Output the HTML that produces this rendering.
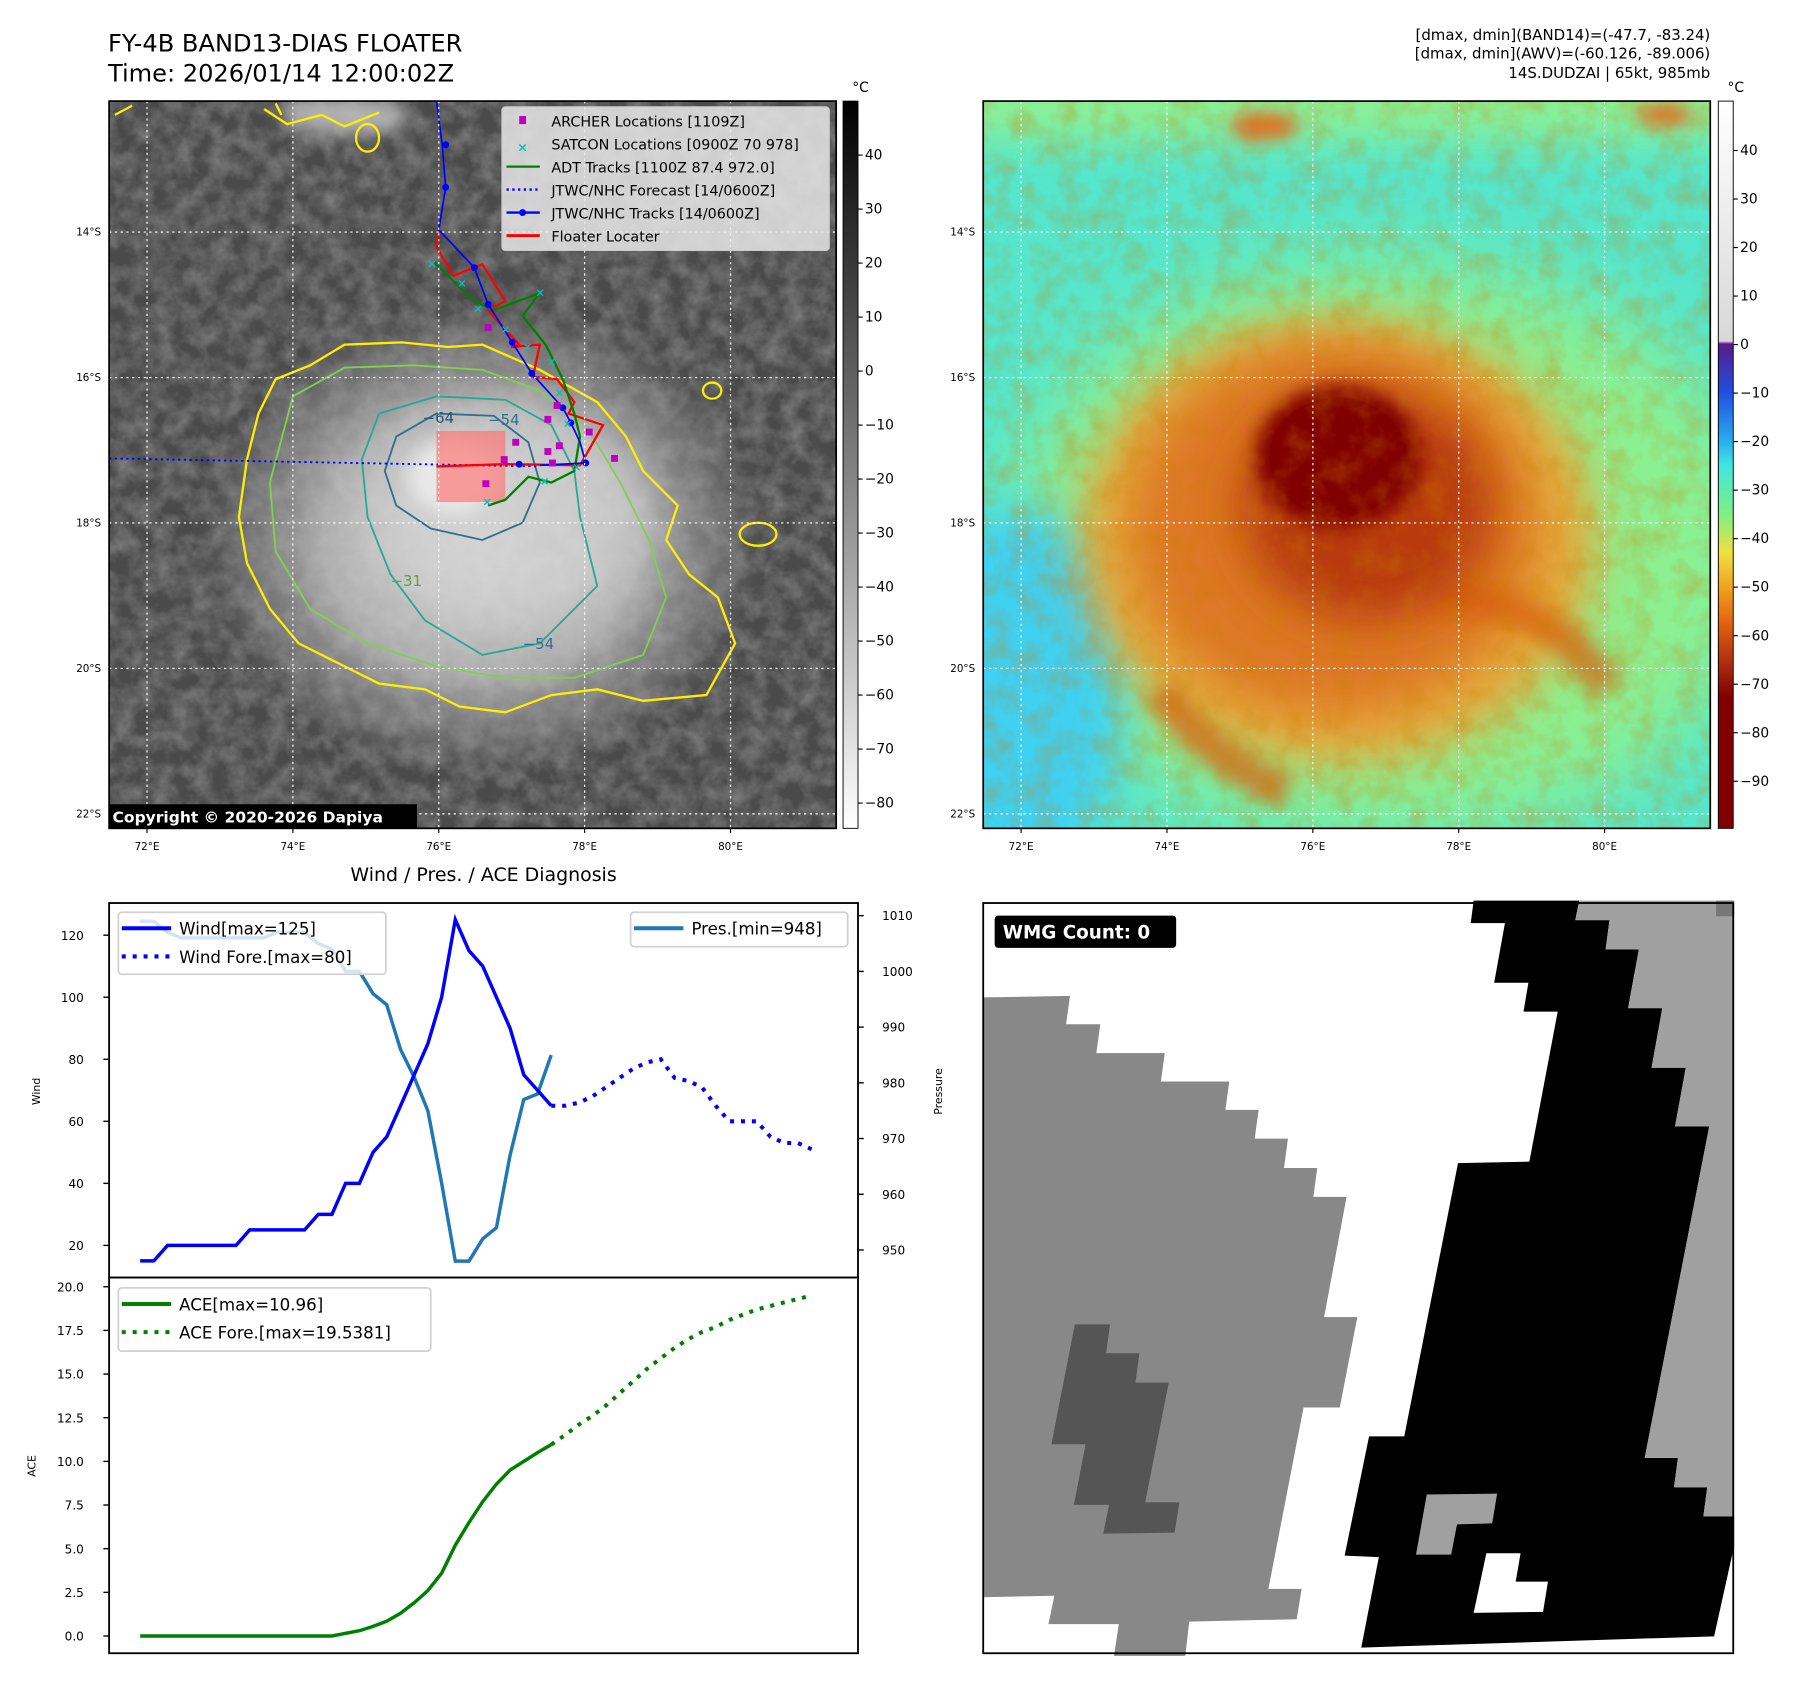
<!DOCTYPE html>
<html><head><meta charset="utf-8">
<style>
html,body{margin:0;padding:0;background:#fff;}
svg{display:block;font-family:"DejaVu Sans","Liberation Sans",sans-serif;}
</style></head>
<body>
<svg id="fig" width="1801" height="1690" viewBox="0 0 1568 1471" preserveAspectRatio="none" xmlns="http://www.w3.org/2000/svg">
<defs>
  <filter id="cloudNoise" x="0" y="0" width="100%" height="100%">
    <feTurbulence type="fractalNoise" baseFrequency="0.06" numOctaves="4" seed="7"/>
    <feColorMatrix type="matrix" values="0 0 0 0 1  0 0 0 0 1  0 0 0 0 1  1.0 0 0 0 -0.3"/>
  </filter>
  <filter id="cloudNoise2" x="0" y="0" width="100%" height="100%">
    <feTurbulence type="fractalNoise" baseFrequency="0.05" numOctaves="4" seed="3"/>
    <feColorMatrix type="matrix" values="0 0 0 0 0.6  0 0 0 0 0.2  0 0 0 0 0.0  1.4 0 0 0 -0.55"/>
  </filter>
  <filter id="blur8" x="-50%" y="-50%" width="200%" height="200%"><feGaussianBlur stdDeviation="8"/></filter>
  <filter id="blur20" x="-50%" y="-50%" width="200%" height="200%"><feGaussianBlur stdDeviation="20"/></filter>
  <filter id="blur35" x="-50%" y="-50%" width="200%" height="200%"><feGaussianBlur stdDeviation="35"/></filter>
  <radialGradient id="stormGray" cx="0.5" cy="0.5" r="0.5">
    <stop offset="0" stop-color="#d8d8d8"/>
    <stop offset="0.55" stop-color="#b8b8b8" stop-opacity="0.9"/>
    <stop offset="0.85" stop-color="#8a8a8a" stop-opacity="0.5"/>
    <stop offset="1" stop-color="#606060" stop-opacity="0"/>
  </radialGradient>
  <linearGradient id="cbarGray" x1="0" y1="0" x2="0" y2="1">
    <stop offset="0" stop-color="#000"/>
    <stop offset="1" stop-color="#fff"/>
  </linearGradient>
  <linearGradient id="cbarColor" x1="0" y1="0" x2="0" y2="1">
    <stop offset="0" stop-color="#ffffff"/>
    <stop offset="0.33" stop-color="#d8d8d8"/>
    <stop offset="0.334" stop-color="#5a1a8a"/>
    <stop offset="0.40" stop-color="#1f4fe0"/>
    <stop offset="0.47" stop-color="#2ab0f0"/>
    <stop offset="0.50" stop-color="#40e6e0"/>
    <stop offset="0.57" stop-color="#80f080"/>
    <stop offset="0.62" stop-color="#f0e040"/>
    <stop offset="0.67" stop-color="#f0a020"/>
    <stop offset="0.72" stop-color="#e06010"/>
    <stop offset="0.77" stop-color="#b03010"/>
    <stop offset="0.82" stop-color="#800000"/>
    <stop offset="1" stop-color="#800000"/>
  </linearGradient>
  <clipPath id="clipL"><rect x="95" y="88" width="633" height="633"/></clipPath>
  <clipPath id="clipR"><rect x="856" y="88" width="633" height="633"/></clipPath>
</defs>

<text x="94" y="45" font-size="21">FY-4B BAND13-DIAS FLOATER</text>
<text x="94" y="71" font-size="21">Time: 2026/01/14 12:00:02Z</text>
<text x="1489" y="35" font-size="13" text-anchor="end">[dmax, dmin](BAND14)=(-47.7, -83.24)</text>
<text x="1489" y="51" font-size="13" text-anchor="end">[dmax, dmin](AWV)=(-60.126, -89.006)</text>
<text x="1489" y="68" font-size="13" text-anchor="end">14S.DUDZAI | 65kt, 985mb</text>

<!-- LEFT MAP -->
<g clip-path="url(#clipL)">
  <rect x="95" y="88" width="633" height="633" fill="#4a4a4a"/>
  <rect x="95" y="88" width="633" height="633" filter="url(#cloudNoise)" opacity="0.35"/>
  <ellipse cx="300" cy="100" rx="55" ry="18" fill="#b0b0b0" filter="url(#blur8)"/>
  <ellipse cx="420" cy="470" rx="250" ry="210" fill="url(#stormGray)"/>
  <ellipse cx="440" cy="450" rx="120" ry="90" fill="#d0d0d0" filter="url(#blur20)" opacity="0.7"/>
  <ellipse cx="395" cy="415" rx="40" ry="32" fill="#e8e8e8" filter="url(#blur8)"/>
  <rect x="95" y="88" width="633" height="633" filter="url(#cloudNoise)" opacity="0.15"/>
  <path d="M240,330 L270,318 300,300 350,298 390,302 420,300 470,322 520,350 545,380 560,410 590,440 580,470 600,500 625,520 640,560 615,605 560,610 520,600 480,605 440,620 400,615 370,600 330,595 300,580 260,560 235,530 215,490 208,450 215,400 225,360 Z" fill="none" stroke="#ffee00" stroke-width="2"/>
  <path d="M255,345 L300,320 360,318 420,322 470,340 510,370 540,420 565,470 580,520 560,570 500,590 440,590 380,580 320,560 270,530 240,480 235,420 Z" fill="none" stroke="#80d050" stroke-width="1.6"/>
  <path d="M330,360 L380,345 440,348 480,370 500,410 505,450 520,510 470,560 420,570 370,540 340,500 320,450 315,400 Z" fill="none" stroke="#2aa890" stroke-width="1.6"/>
  <path d="M345,380 L380,360 430,362 460,385 470,420 455,455 420,470 375,460 345,440 335,410 Z" fill="none" stroke="#2d7090" stroke-width="1.6"/>
  <path d="M100,100 L115,92 M230,95 L250,108 280,100 300,110 330,98 M240,90 L245,100" fill="none" stroke="#ffee00" stroke-width="2"/>
  <ellipse cx="660" cy="465" rx="16" ry="10" fill="none" stroke="#ffee00" stroke-width="2"/>
  <ellipse cx="620" cy="340" rx="8" ry="7" fill="none" stroke="#ffee00" stroke-width="2"/>
  <ellipse cx="320" cy="120" rx="10" ry="12" fill="none" stroke="#ffee00" stroke-width="2"/>
  <text x="368" y="368" font-size="13" fill="#2d5070">−64</text>
  <text x="425" y="370" font-size="13" fill="#2d7090">−54</text>
  <text x="455" y="565" font-size="13" fill="#2d7090">−54</text>
  <text x="340" y="510" font-size="13" fill="#60a040">−31</text>
  <rect x="380" y="375" width="60" height="62" fill="#ff7070" opacity="0.65"/>
  <line x1="95" y1="399" x2="470" y2="406" stroke="#0000ff" stroke-width="1.6" stroke-dasharray="2,3"/>
  <polyline points="382,200 380,215 395,240 420,230 440,262 425,270 452,300 445,302 470,300 464,328 485,330 500,350 495,360 525,370 505,405 440,404 380,406" fill="none" stroke="#ff0000" stroke-width="2"/>
  <polyline points="378,228 410,260 430,270 470,255 455,275 475,300 490,330 500,360 505,380 500,410 480,420 460,415 440,435 425,440" fill="none" stroke="#008000" stroke-width="2"/>
  <polyline points="380,88 385,126 388,163 382,200 413,233 425,265 446,298 463,325 490,355 497,368 505,385 510,403 490,404 470,405" fill="none" stroke="#0000ff" stroke-width="1.5"/>
  <g fill="#0000ff">
    <circle cx="388" cy="126" r="3"/><circle cx="388" cy="163" r="3"/><circle cx="413" cy="233" r="3"/><circle cx="425" cy="265" r="3"/><circle cx="446" cy="298" r="3"/><circle cx="463" cy="325" r="3"/><circle cx="490" cy="355" r="3"/><circle cx="497" cy="368" r="3"/><circle cx="510" cy="403" r="3"/><circle cx="452" cy="404" r="3"/>
  </g>
  <g fill="#00c0c0" font-size="10" font-weight="bold">
    <text x="372" y="233">×</text><text x="398" y="250">×</text><text x="412" y="272">×</text><text x="436" y="290">×</text><text x="466" y="258">×</text><text x="455" y="305">×</text><text x="476" y="318">×</text><text x="483" y="345">×</text><text x="490" y="372">×</text><text x="470" y="422">×</text><text x="498" y="410">×</text><text x="420" y="440">×</text>
  </g>
  <g fill="#c000c0">
    <rect x="422" y="282" width="6" height="6"/><rect x="474" y="362" width="6" height="6"/><rect x="482" y="350" width="6" height="6"/><rect x="446" y="382" width="6" height="6"/><rect x="436" y="397" width="6" height="6"/><rect x="474" y="390" width="6" height="6"/><rect x="484" y="385" width="6" height="6"/><rect x="510" y="373" width="6" height="6"/><rect x="532" y="396" width="6" height="6"/><rect x="420" y="418" width="6" height="6"/><rect x="478" y="400" width="6" height="6"/>
  </g>
  <g id="gridL" stroke="#fff" stroke-width="1" stroke-dasharray="2,3"></g>
  <g>
    <rect x="437" y="93" width="285" height="125" rx="3" fill="#e8e8e8" fill-opacity="0.85" stroke="#ccc"/>
    <rect x="452" y="101" width="6" height="7" fill="#c000c0"/>
    <text x="455" y="132" font-size="11" font-weight="bold" fill="#00c0c0" text-anchor="middle">×</text>
    <line x1="441" y1="145" x2="470" y2="145" stroke="#008000" stroke-width="2"/>
    <line x1="441" y1="165" x2="470" y2="165" stroke="#0000ff" stroke-width="2" stroke-dasharray="2,3"/>
    <line x1="441" y1="185" x2="470" y2="185" stroke="#0000ff" stroke-width="2"/><circle cx="455" cy="185" r="3" fill="#0000ff"/>
    <line x1="441" y1="205" x2="470" y2="205" stroke="#ff0000" stroke-width="2.5"/>
    <g font-size="12.5" fill="#000">
      <text x="480" y="110">ARCHER Locations [1109Z]</text>
      <text x="480" y="130">SATCON Locations [0900Z 70 978]</text>
      <text x="480" y="150">ADT Tracks [1100Z 87.4 972.0]</text>
      <text x="480" y="170">JTWC/NHC Forecast [14/0600Z]</text>
      <text x="480" y="190">JTWC/NHC Tracks [14/0600Z]</text>
      <text x="480" y="210">Floater Locater</text>
    </g>
  </g>
  <rect x="95" y="700" width="268" height="21" fill="#000"/>
  <text x="98" y="716" font-size="13.5" font-weight="bold" fill="#fff">Copyright © 2020-2026 Dapiya</text>
</g>
<rect x="95" y="88" width="633" height="633" fill="none" stroke="#000" stroke-width="1.5"/>

<rect x="734" y="88" width="13" height="633" fill="url(#cbarGray)" stroke="#000" stroke-width="0.8"/>
<text x="742" y="80" font-size="12">°C</text>
<g id="cbarLTicks" font-size="12"></g>

<!-- RIGHT MAP -->
<g clip-path="url(#clipR)">
  <rect x="856" y="88" width="633" height="633" fill="#55e6cc"/>
  <rect x="800" y="60" width="750" height="60" fill="#90f090" filter="url(#blur20)"/>
  <ellipse cx="1210" cy="480" rx="330" ry="250" fill="#8cf090" filter="url(#blur35)"/>
  <ellipse cx="890" cy="600" rx="90" ry="160" fill="#40d0f0" filter="url(#blur20)"/>
  <ellipse cx="1165" cy="470" rx="225" ry="195" fill="#f0a030" filter="url(#blur20)" opacity="0.9"/>
  <ellipse cx="1160" cy="460" rx="175" ry="160" fill="#dc7020" filter="url(#blur20)" opacity="0.85"/>
  <path d="M1250,520 Q1350,520 1400,600 M1010,600 Q1050,660 1120,690" stroke="#d86010" stroke-width="30" fill="none" filter="url(#blur8)" opacity="0.7"/>
  <ellipse cx="1190" cy="440" rx="110" ry="100" fill="#b83a10" filter="url(#blur20)"/>
  <ellipse cx="1165" cy="398" rx="72" ry="62" fill="#800000" filter="url(#blur8)"/>
  <ellipse cx="1165" cy="398" rx="60" ry="52" fill="#800000"/>
  <rect x="856" y="88" width="633" height="633" filter="url(#cloudNoise2)" opacity="0.45"/>
  <ellipse cx="1100" cy="110" rx="30" ry="12" fill="#e07020" filter="url(#blur8)"/>
  <ellipse cx="1450" cy="100" rx="25" ry="10" fill="#e07020" filter="url(#blur8)"/>
  <g id="gridR" stroke="#fff" stroke-width="1" stroke-dasharray="2,3"></g>
</g>
<rect x="856" y="88" width="633" height="633" fill="none" stroke="#000" stroke-width="1.5"/>
<rect x="1496" y="88" width="13" height="633" fill="url(#cbarColor)" stroke="#000" stroke-width="0.8"/>
<text x="1504" y="80" font-size="12">°C</text>
<g id="cbarRTicks" font-size="12"></g>
<g id="mapTicks" font-size="9"></g>

<text x="421" y="767" font-size="16.5" text-anchor="middle">Wind / Pres. / ACE Diagnosis</text>
<g id="windPanel"></g>
<rect x="95" y="786" width="652" height="326" fill="none" stroke="#000" stroke-width="1.6"/>
<rect x="95" y="1112" width="652" height="327" fill="none" stroke="#000" stroke-width="1.6"/>
<text transform="translate(35,950) rotate(-90)" font-size="9.5" text-anchor="middle">Wind</text>
<text transform="translate(820,950) rotate(-90)" font-size="9.5" text-anchor="middle">Pressure</text>
<text transform="translate(31,1276) rotate(-90)" font-size="9.5" text-anchor="middle">ACE</text>

<g>
  <rect x="856" y="786" width="653" height="653" fill="#fff"/>
  <g transform="translate(855.8,783.9) scale(0.4255)">
    <polygon fill="#888888" points="0,198 178,195 170,253 240,253 232,312 372,312 364,370 504,370 496,428 564,428 556,487 624,487 616,547 684,547 676,606 744,606 698,852 766,852 730,1037 656,1037 584,1408 652,1408 642,1470 422,1475 414,1545 268,1545 278,1480 134,1480 146,1422 0,1425"/>
    <polygon fill="#555555" points="188,867 260,867 252,926 320,926 312,986 380,986 332,1231 402,1231 392,1293 246,1295 258,1236 186,1236 210,1112 140,1112"/>
    <polygon fill="#000" points="1004,0 1220,0 1212,40 1282,40 1274,100 1342,100 1320,220 1390,220 1368,342 1438,342 1416,462 1486,462 1354,1140 1422,1140 1414,1200 1482,1200 1474,1260 1537,1260 1537,1320 1496,1505 774,1528 810,1343 740,1340 790,1096 862,1096 972,537 1118,534 1176,227 1106,227 1116,168 1046,168 1068,46 998,46"/>
    <polygon fill="#a0a0a0" points="1220,0 1537,0 1537,1260 1474,1260 1482,1200 1414,1200 1422,1140 1354,1140 1486,462 1416,462 1438,342 1368,342 1390,220 1320,220 1342,100 1274,100 1282,40 1212,40"/>
    <rect x="1500" y="0" width="37" height="32" fill="#777"/>
    <polygon fill="#a0a0a0" points="908,1215 1052,1213 1042,1274 970,1276 958,1338 886,1338"/>
    <polygon fill="#fff" points="1030,1335 1100,1335 1090,1393 1156,1393 1146,1455 1004,1457"/>
  </g>
  <rect x="866" y="797" width="158" height="28" rx="3" fill="#000"/>
  <text x="873" y="817" font-size="16" font-weight="bold" fill="#fff">WMG Count: 0</text>
  <rect x="856" y="786" width="653" height="653" fill="none" stroke="#000" stroke-width="1.6"/>
</g>

<script>
var windObs = [15,15,20,20,20,20,20,20,25,25,25,25,25,30,30,40,40,50,55,65,75,85,100,125,115,110,100,90,75,70,65];
var windFore = [65,65,66,68,71,74,77,79,80,74,73,71,65,60,60,60,55,53,53,51];
var presObs = [1009,1009,1007,1006,1006,1006,1006,1006,1006,1006,1007,1007,1007,1005,1004,1000,1000,996,994,986,981,975,962,948,948,952,954,967,977,978,985];
var aceObs = [0,0,0,0,0,0,0,0,0,0,0,0,0,0,0,0.15,0.3,0.55,0.85,1.3,1.9,2.6,3.6,5.2,6.5,7.7,8.7,9.5,10.0,10.5,10.96];
var aceFore = [10.96,11.5,12.1,12.6,13.2,13.9,14.6,15.3,15.9,16.5,17.0,17.4,17.7,18.1,18.4,18.7,18.9,19.1,19.3,19.5];
var windTicks = [20,40,60,80,100,120];
var presTicks = [950,960,970,980,990,1000,1010];
var aceTicks = [0,2.5,5,7.5,10,12.5,15,17.5,20];
var lonTicks = ["72°E","74°E","76°E","78°E","80°E"];
var latTicks = ["14°S","16°S","18°S","20°S","22°S"];
var irTicks = [40,30,20,10,0,-10,-20,-30,-40,-50,-60,-70,-80];
var awvTicks = [40,30,20,10,0,-10,-20,-30,-40,-50,-60,-70,-80,-90];

var NS = "http://www.w3.org/2000/svg";
function mk(tag, attrs, parent){ var e=document.createElementNS(NS,tag); for(var k in attrs) e.setAttribute(k,attrs[k]); parent.appendChild(e); return e; }
function xi(i){ return 122 + i*11.93; }
function yWind(v){ return 1084 - (v-20)*2.7; }
function yPres(p){ return 1088 - (p-950)*4.85; }
function yAce(a){ return 1424 - a*15.2; }
var wp = document.getElementById('windPanel');

windTicks.forEach(function(t){
  var y=yWind(t);
  mk('line',{x1:90,y1:y,x2:95,y2:y,stroke:'#000','stroke-width':1.2},wp);
  var tx=mk('text',{x:73,y:y+4,'font-size':10.5,'text-anchor':'end'},wp); tx.textContent=t;
  
  
});
presTicks.forEach(function(t){
  var y=yPres(t);
  mk('line',{x1:747,y1:y,x2:752,y2:y,stroke:'#000','stroke-width':1.2},wp);
  var tx=mk('text',{x:768,y:y+4,'font-size':10.5},wp); tx.textContent=t;
  
  
});
aceTicks.forEach(function(t){
  var y=yAce(t);
  mk('line',{x1:90,y1:y,x2:95,y2:y,stroke:'#000','stroke-width':1.2},wp);
  var tx=mk('text',{x:73,y:y+4,'font-size':10.5,'text-anchor':'end'},wp); tx.textContent=t.toFixed(1);
  
  
});

function pts(arr, off, fy){ return arr.map(function(v,i){ return xi(i+off).toFixed(1)+','+fy(v).toFixed(1); }).join(' '); }
var l;
l=mk('polyline',{points:pts(presObs,0,yPres),fill:'none',stroke:'#1f77b4','stroke-width':3},wp);


l=mk('polyline',{points:pts(windObs,0,yWind),fill:'none',stroke:'#0000ff','stroke-width':3},wp);


l=mk('polyline',{points:pts(windFore,windObs.length-1,yWind),fill:'none',stroke:'#0000ff','stroke-width':3.5,'stroke-dasharray':'3.5,6'},wp);


l=mk('polyline',{points:pts(aceObs,0,yAce),fill:'none',stroke:'#008000','stroke-width':3},wp);


l=mk('polyline',{points:pts(aceFore,aceObs.length-1,yAce),fill:'none',stroke:'#008000','stroke-width':3.5,'stroke-dasharray':'3.5,6'},wp);



function legend(x,y,w,h,items,name){
  var g=mk('g',{},wp);
  
  
  mk('rect',{x:x,y:y,width:w,height:h,rx:3,fill:'#fff','fill-opacity':0.8,stroke:'#d0d0d0','stroke-width':1.5},g);
  items.forEach(function(it,k){
    var yy=y+14+k*24.5;
    var a={x1:x+3,y1:yy,x2:x+46,y2:yy,stroke:it.c,'stroke-width':3.5};
    if(it.d) a['stroke-dasharray']='3.5,6';
    mk('line',a,g);
    var t=mk('text',{x:x+53,y:yy+5.5,'font-size':14.5},g); t.textContent=it.t;
  });
}
legend(103,794,233,54,[{c:'#0000ff',t:'Wind[max=125]'},{c:'#0000ff',t:'Wind Fore.[max=80]',d:1}],'wind-legend');
legend(549,794,189,30,[{c:'#1f77b4',t:'Pres.[min=948]'}],'pressure-legend');
legend(103,1121,272,55,[{c:'#008000',t:'ACE[max=10.96]'},{c:'#008000',t:'ACE Fore.[max=19.5381]',d:1}],'ace-legend');

var gL=document.getElementById('gridL'), gR=document.getElementById('gridR'), mt=document.getElementById('mapTicks');
lonTicks.forEach(function(lab,i){
  [[gL,128,95],[gR,889,856]].forEach(function(p){
    var x=p[1]+i*127;
    mk('line',{x1:x,y1:88,x2:x,y2:721},p[0]);
    mk('line',{x1:x,y1:721,x2:x,y2:725,stroke:'#000'},mt);
    var t=mk('text',{x:x,y:740,'text-anchor':'middle'},mt); t.textContent=lab;
    
    
  });
});
latTicks.forEach(function(lab,i){
  [[gL,95],[gR,856]].forEach(function(p){
    var y=202+i*126.6;
    mk('line',{x1:p[1],y1:y,x2:p[1]+633,y2:y},p[0]);
    var t=mk('text',{x:p[1]-7,y:y+3,'text-anchor':'end'},mt); t.textContent=lab;
    
    
  });
});
var cL=document.getElementById('cbarLTicks');
irTicks.forEach(function(v){
  var y=135+(40-v)*4.7;
  mk('line',{x1:747,y1:y,x2:751,y2:y,stroke:'#000'},cL);
  var t=mk('text',{x:753,y:y+4},cL); t.textContent=(v<0?'\u2212'+(-v):v);
  
  
});
var cR=document.getElementById('cbarRTicks');
awvTicks.forEach(function(v){
  var y=131+(40-v)*4.223;
  mk('line',{x1:1509,y1:y,x2:1513,y2:y,stroke:'#000'},cR);
  var t=mk('text',{x:1515,y:y+4},cR); t.textContent=(v<0?'\u2212'+(-v):v);
  
  
});
</script>
</svg>
</body></html>
